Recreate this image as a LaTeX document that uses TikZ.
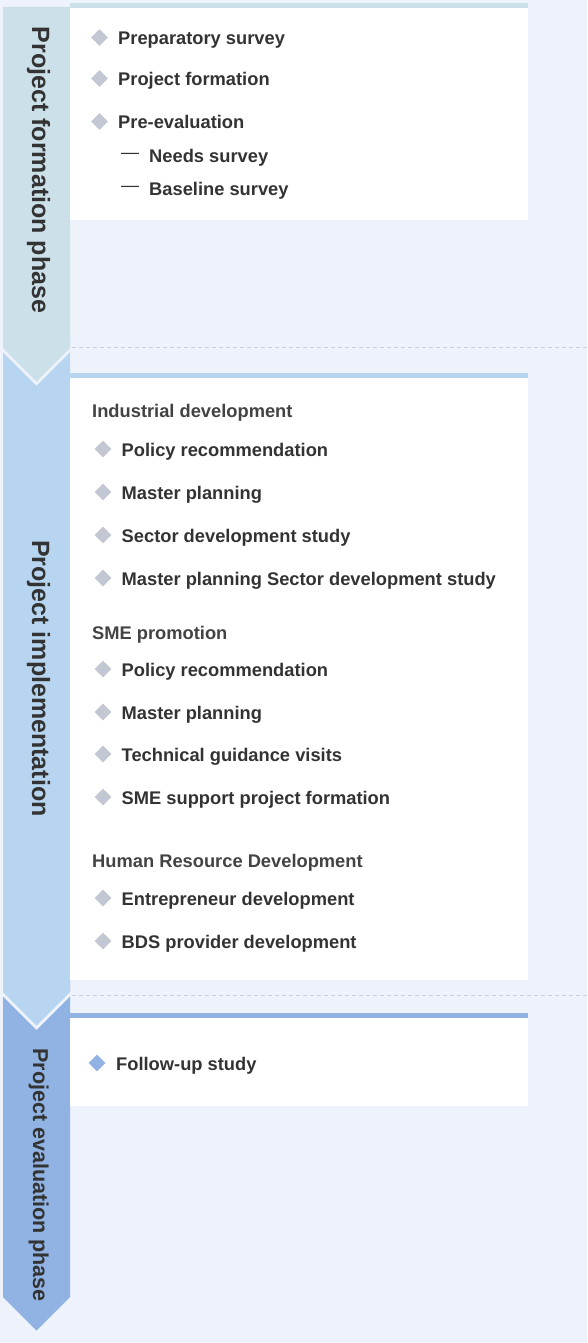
\documentclass[tikz,border=0pt]{standalone}
\usepackage{fontspec}
\setmainfont{Liberation Sans}
\usetikzlibrary{shapes.geometric}
\definecolor{bg}{HTML}{EEF3FB}
\definecolor{pone}{HTML}{CCE0EA}
\definecolor{ptwo}{HTML}{B7D5F0}
\definecolor{pthree}{HTML}{90B3E3}
\definecolor{dgray}{HTML}{C3C7D3}
\definecolor{txt}{HTML}{333333}
\definecolor{sepgray}{HTML}{CBCFD6}
\tikzset{
  itemtext/.style={anchor=base west, inner sep=0pt, text=txt, font=\fontsize{18.3}{22}\selectfont\bfseries},
  headtext/.style={anchor=base west, inner sep=0pt, text=txt!92!white, font=\fontsize{18.3}{22}\selectfont\bfseries},
  subdash/.style={anchor=base west, inner sep=0pt, text=txt, font=\fontsize{18}{22}\selectfont},
  gem/.style={diamond, fill=#1, minimum width=17pt, minimum height=17pt, inner sep=0pt},
  phasetext/.style={rotate=-90, anchor=base, inner sep=0pt, text=txt, font=\fontsize{#1}{#1}\selectfont\bfseries},
  sepline/.style={draw=sepgray, line width=1pt, dash pattern=on 4pt off 3pt},
  chevedge/.style={draw=bg, line width=6pt, line join=miter},
  whitebox/.style={fill=white},
}
\begin{document}
\begin{tikzpicture}[x=1pt,y=-1pt]
\fill[bg] (0,0) rectangle (587,1343);
\useasboundingbox (0,0) rectangle (587,1343);

% separator dashed lines
\draw[sepline] (72,347) -- (587,347);
\draw[sepline] (72,995) -- (587,995);

% banners
\fill[pthree] (3,975) -- (70,975) -- (70,1297) -- (36.5,1330.5) -- (3,1297) -- cycle;
\draw[chevedge] (3,992) -- (36.5,1025.5) -- (70,992);
\fill[ptwo] (3,335) -- (70,335) -- (70,992) -- (36.5,1025.5) -- (3,992) -- cycle;
\draw[chevedge] (3,348) -- (36.5,381.5) -- (70,348);
\fill[pone] (3,7) -- (70,7) -- (70,348) -- (36.5,381.5) -- (3,348) -- cycle;

\node[phasetext=25] (ph1) at (32,170) {Project formation phase};
\node[phasetext=25] (ph2) at (32,678.5) {Project implementation};
\node[phasetext=21.5] (ph3) at (33,1175) {Project evaluation phase};

% boxes
\fill[pone] (70,3) rectangle (528,8);
\fill[whitebox] (70,8) rectangle (528,220);
\fill[ptwo] (70,373) rectangle (528,378);
\fill[whitebox] (70,378) rectangle (528,980);
\fill[pthree] (70,1013) rectangle (528,1018);
\fill[whitebox] (70,1018) rectangle (528,1106);

% box 1 items
\foreach \n/\b/\t in {a/44.5/Preparatory survey, b/85.5/Project formation, c/128.5/Pre-evaluation}{
  \node[gem=dgray] (d\n) at (99.5,\b-7) {};
  \node[itemtext] (t\n) at (118,\b) {\t};
}
\foreach \n/\b/\t in {d/162.5/Needs survey, e/195.5/Baseline survey}{
  \node[subdash] (s\n) at (121,\b-4) {—};
  \node[itemtext] (t\n) at (149,\b) {\t};
}

% box 2 headings
\node[headtext] (h1) at (92,417) {Industrial development};
\node[headtext] (h2) at (92,639) {SME promotion};
\node[headtext] (h3) at (92,867) {Human Resource Development};

% box 2 items
\foreach \n/\b/\t in {
  f/456/Policy recommendation,
  g/499/Master planning,
  h/542/Sector development study,
  i/585/Master planning Sector development study,
  j/676/Policy recommendation,
  k/719/Master planning,
  l/761/Technical guidance visits,
  m/804/SME support project formation,
  n/905/Entrepreneur development,
  o/948/BDS provider development}{
  \node[gem=dgray] (d\n) at (103,\b-7) {};
  \node[itemtext] (t\n) at (121.5,\b) {\t};
}

% box 3
\node[gem=pthree] (dp) at (97,1063) {};
\node[itemtext] (tp) at (116,1070) {Follow-up study};
\end{tikzpicture}
\end{document}
